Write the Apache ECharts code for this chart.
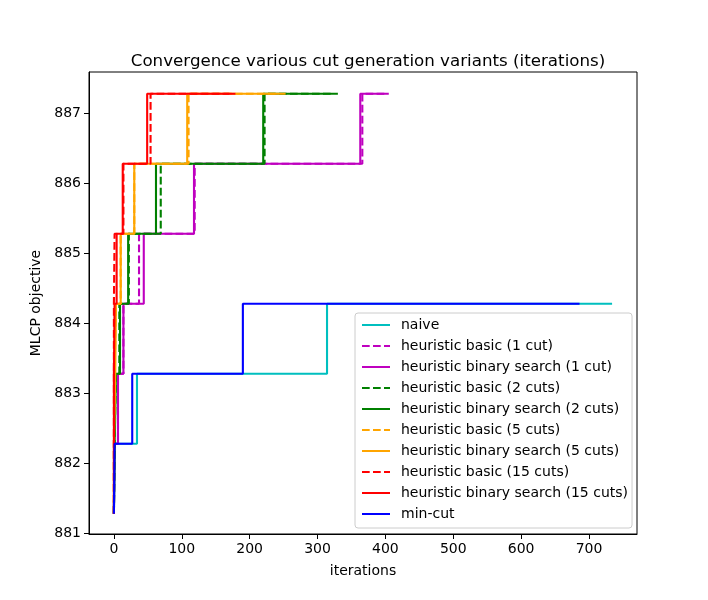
<!DOCTYPE html>
<html>
<head>
<meta charset="utf-8">
<script src="https://cdn.jsdelivr.net/npm/echarts@6/dist/echarts.min.js"></script>
<style>html,body{margin:0;padding:0;background:#fff}#c{width:708px;height:600px}</style>
</head>
<body>
<div id="c"></div>
<script>
// Objective levels (MLCP objective values reached)
const levels = [881.28, 882.28, 883.28, 884.28, 885.28, 886.28, 887.28];

// Iteration at which each level is reached; last entry = end of run
const naiveX        = [0, 1, 34, 314, 734];
const basic1X       = [0, 1, 6, 14, 37, 119, 366, 400];
const binary1X      = [0, 1, 6, 14, 44, 118, 363, 405];
const basic2X       = [0, 1, 3, 8, 22, 69, 222, 320];
const binary2X      = [0, 1, 3, 9, 21, 62, 220, 330];
const basic5X       = [0, 0, 1, 3, 10, 30, 110, 240];
const binary5X      = [0, 0, 2, 3, 10, 30, 108, 253];
const basic15X      = [0, 0, 0, 0, 1, 14, 54, 170];
const binary15X     = [0, 0, 0, 1, 4, 13, 49, 179];
const minCutX       = [0, 1, 27, 190, 686];

const seriesNames = [
  'naive',
  'heuristic basic (1 cut)',
  'heuristic binary search (1 cut)',
  'heuristic basic (2 cuts)',
  'heuristic binary search (2 cuts)',
  'heuristic basic (5 cuts)',
  'heuristic binary search (5 cuts)',
  'heuristic basic (15 cuts)',
  'heuristic binary search (15 cuts)',
  'min-cut'
];
const seriesX = [naiveX, basic1X, binary1X, basic2X, binary2X, basic5X, binary5X, basic15X, binary15X, minCutX];
const seriesColors = ['#00bfbf', '#bf00bf', '#bf00bf', '#008000', '#008000', '#ffa500', '#ffa500', '#ff0000', '#ff0000', '#0000ff'];
const seriesDashed = [false, true, false, true, false, true, false, true, false, false];

const xTicks = [0, 100, 200, 300, 400, 500, 600, 700];
const yTicks = [881, 882, 883, 884, 885, 886, 887];

function toPoints(xs) {
  const pts = [];
  for (let i = 0; i < xs.length; i++) {
    const lv = levels[Math.min(i, xs.length - 2)];
    pts.push([xs[i], lv]);
  }
  return pts;
}

const FONT = 'DejaVu Sans';
const series = seriesNames.map((name, i) => ({
  name: name,
  type: 'line',
  step: 'end',
  symbol: 'none',
  showSymbol: false,
  data: toPoints(seriesX[i]),
  color: seriesColors[i],
  lineStyle: {
    color: seriesColors[i],
    width: 2.1,
    type: seriesDashed[i] ? [7.7, 3.3] : 'solid',
    cap: 'butt'
  },
  emphasis: { disabled: true },
  z: 2 + i
}));

const chart = echarts.init(document.getElementById('c'), null, { renderer: 'canvas' });
chart.setOption({
  animation: false,
  backgroundColor: '#fff',
  title: {
    text: 'Convergence various cut generation variants (iterations)',
    left: 363, top: 48, textAlign: 'center',
    textStyle: { fontFamily: FONT, fontSize: 16.7, fontWeight: 'normal', color: '#000' }
  },
  grid: {
    left: 89, top: 72, right: 71, bottom: 66,
    show: true, borderColor: '#000', borderWidth: 1, backgroundColor: 'transparent'
  },
  legend: {
    orient: 'vertical',
    left: 355, top: 313,
    itemWidth: 28, itemHeight: 14, itemGap: 7,
    padding: [5, 4, 7, 6],
    backgroundColor: 'rgba(255,255,255,0.8)',
    borderColor: '#cccccc', borderWidth: 1, borderRadius: 3,
    itemStyle: { opacity: 0, borderWidth: 0 },
    textStyle: { fontFamily: FONT, fontSize: 14, color: '#000', padding: [0, 0, 0, 6] },
    data: seriesNames
  },
  xAxis: {
    type: 'value',
    min: -36.7, max: 770.7,
    name: 'iterations', nameLocation: 'middle', nameGap: 30,
    nameTextStyle: { fontFamily: FONT, fontSize: 14, color: '#000' },
    splitLine: { show: false },
    axisLine: { show: true, onZero: false, lineStyle: { color: '#000', width: 1 } },
    axisTick: { show: true, length: 5, lineStyle: { color: '#000' }, customValues: xTicks },
    axisLabel: { fontFamily: FONT, fontSize: 14, color: '#000', margin: 8, customValues: xTicks }
  },
  yAxis: {
    type: 'value',
    min: 880.99, max: 887.59,
    name: 'MLCP objective', nameLocation: 'middle', nameGap: 41, nameRotate: 90,
    nameTextStyle: { fontFamily: FONT, fontSize: 14, color: '#000' },
    splitLine: { show: false },
    axisLine: { show: true, onZero: false, lineStyle: { color: '#000', width: 1 } },
    axisTick: { show: true, length: 5, lineStyle: { color: '#000' }, customValues: yTicks },
    axisLabel: { fontFamily: FONT, fontSize: 14, color: '#000', margin: 8, customValues: yTicks }
  },
  tooltip: { show: false },
  series: series
});
</script>
</body>
</html>
